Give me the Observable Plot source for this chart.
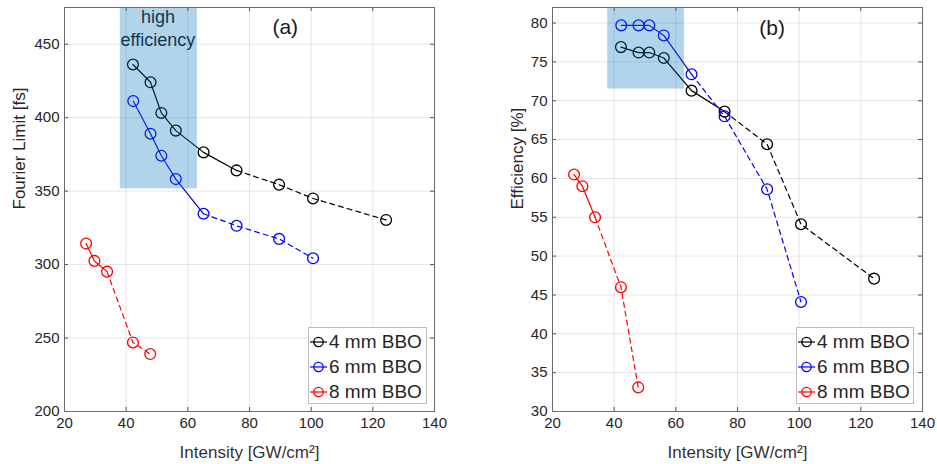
<!DOCTYPE html>
<html><head><meta charset="utf-8">
<script src="https://cdn.jsdelivr.net/npm/d3@7"></script>
<script src="https://cdn.jsdelivr.net/npm/@observablehq/plot@0.6"></script>
<style>
body{margin:0;background:#fff;}
#wrap{position:relative;width:937px;height:464px;overflow:hidden;background:#fff;font-family:"Liberation Sans",Arial,sans-serif;}
.panel{position:absolute;top:0;}
.panel svg{overflow:visible;}
.legend{position:absolute;background:#fff;border:1px solid #bdbdbd;box-sizing:border-box;font-size:19px;color:#262626;padding:2px 0 0 1px;}
.legend .row{display:flex;align-items:center;height:24.7px;white-space:nowrap;}
.legend svg{margin-right:1px;}
</style></head>
<body><div id="wrap"></div>
<script>
// ---- data ----
const seriesNames = ["4 mm BBO", "6 mm BBO", "8 mm BBO"];
const seriesColors = ["#000000", "#0000ff", "#ff0000"];
const solidCount = [6, 5, 3]; // points joined by solid line, rest dashed

const intensity4 = [42.2, 47.9, 51.4, 56.1, 65.1, 75.8, 89.6, 100.6, 124.3];
const intensity6 = [42.3, 47.9, 51.4, 56.1, 65.1, 75.8, 89.6, 100.6];
const intensity8 = [27.0, 29.7, 33.8, 42.2, 47.8];

const fourier4 = [436.2, 424.1, 403.2, 391.2, 376.4, 364.1, 354.4, 345.0, 330.4];
const fourier6 = [411.3, 389.1, 374.1, 358.2, 334.6, 326.4, 317.5, 304.3];
const fourier8 = [314.3, 302.5, 295.2, 247.0, 239.1];

const efficiency4 = [76.9, 76.2, 76.2, 75.5, 71.3, 68.6, 64.4, 54.1, 47.1];
const efficiency6 = [79.7, 79.7, 79.7, 78.4, 73.4, 68.0, 58.6, 44.1];
const efficiency8 = [60.5, 59.0, 55.0, 46.0, 33.1];

const xTicks = [20, 40, 60, 80, 100, 120, 140];
const yTicksA = [200, 250, 300, 350, 400, 450];
const yTicksB = [30, 35, 40, 45, 50, 55, 60, 65, 70, 75, 80];

const highEffA = [{x1: 38.1, x2: 63.1, y1: 351.6, y2: 475}];
const highEffB = [{x1: 37.9, x2: 62.8, y1: 71.5, y2: 82}];
const notesA = [{text: "(a)", x: 91.6, y: 462.5, size: 21}, {text: "high\nefficiency", x: 50.3, y: 461.5, size: 18}];
const notesB = [{text: "(b)", x: 91.2, y: 79.6, size: 21}];

const intensity = [intensity4, intensity6, intensity8];

function rows(values) {
  const solid = [], dashed = [], pts = [];
  seriesNames.forEach((name, i) => {
    intensity[i].forEach((x, j) => {
      const r = {series: name, x, y: values[i][j]};
      pts.push(r);
      if (j < solidCount[i]) solid.push(r);
      if (j >= solidCount[i] - 1) dashed.push(r);
    });
  });
  return {solid, dashed, pts};
}

const H = 464, MT = 7, MB = 53, PW = 370, PH = H - MT - MB;
const font = "'Liberation Sans', Arial, sans-serif";

function panel(o) {
  const d = rows(o.values);
  const plot = Plot.plot({
    width: o.width, height: H,
    marginLeft: o.ml, marginRight: o.width - o.ml - PW, marginTop: MT, marginBottom: MB,
    style: {fontFamily: font, fontSize: "15px", color: "#262626", background: "transparent"},
    x: {domain: [20, 140]},
    y: {domain: o.yDomain},
    color: {domain: seriesNames, range: seriesColors},
    marks: [
      Plot.gridX(xTicks, {stroke: "#000", strokeOpacity: 0.1}),
      Plot.gridY(o.yTicks, {stroke: "#000", strokeOpacity: 0.1}),
      Plot.ruleX(xTicks, {insetTop: PH - 4, stroke: "#555"}),
      Plot.ruleX(xTicks, {insetBottom: PH - 4, stroke: "#555"}),
      Plot.ruleY(o.yTicks, {insetLeft: PW - 4, stroke: "#555"}),
      Plot.ruleY(o.yTicks, {insetRight: PW - 4, stroke: "#555"}),
      Plot.axisX(xTicks, {tickSize: 0, tickPadding: 6, label: null}),
      Plot.axisY(o.yTicks, {tickSize: 0, tickPadding: 5, label: null}),
      Plot.line(d.solid, {x: "x", y: "y", z: "series", stroke: "series", strokeWidth: 1.2}),
      Plot.line(d.dashed, {x: "x", y: "y", z: "series", stroke: "series", strokeWidth: 1.2, strokeDasharray: "5,4"}),
      Plot.dot(d.pts, {x: "x", y: "y", stroke: "series", r: 5.4, strokeWidth: 1.3, fill: "none"}),
      Plot.text(o.notes, {x: "x", y: "y", text: "text", fontSize: d => d.size, fill: "#1a1a1a", lineHeight: 1.25}),
      Plot.rect(o.box, {x1: "x1", x2: "x2", y1: "y1", y2: "y2", fill: "#0072BD", fillOpacity: 0.3}),
      Plot.frame({stroke: "#6a6a6a"}),
      Plot.text(["Intensity [GW/cm²]"], {frameAnchor: "bottom", dy: 41, fontSize: 17, fill: "#333", lineAnchor: "middle"}),
      Plot.text([o.yLabel], {frameAnchor: "left", dx: o.labelDx, rotate: -90, fontSize: 17, fill: "#262626", lineAnchor: "middle"})
    ]
  });
  const div = document.createElement("div");
  div.className = "panel";
  div.style.left = o.left + "px";
  div.appendChild(plot);
  document.getElementById("wrap").appendChild(div);

  const lg = document.createElement("div");
  lg.className = "legend";
  Object.assign(lg.style, {left: o.legend[0] + "px", top: o.legend[1] + "px", width: o.legend[2] + "px", height: o.legend[3] + "px"});
  seriesNames.forEach((name, i) => {
    const row = document.createElement("div");
    row.className = "row";
    row.innerHTML = `<svg width="18" height="14"><line x1="0" x2="17" y1="7" y2="7" stroke="${seriesColors[i]}" stroke-width="1.2"/><circle cx="8.5" cy="7" r="4.7" fill="none" stroke="${seriesColors[i]}" stroke-width="1.3"/></svg><span>${name}</span>`;
    lg.appendChild(row);
  });
  document.getElementById("wrap").appendChild(lg);
}

panel({values: [fourier4, fourier6, fourier8], yDomain: [200, 475], yTicks: yTicksA, yLabel: "Fourier Limit [fs]",
  notes: notesA, box: highEffA, left: 0, width: 470, ml: 64, labelDx: -45, legend: [308, 327, 119, 77]});
panel({values: [efficiency4, efficiency6, efficiency8], yDomain: [30, 82], yTicks: yTicksB, yLabel: "Efficiency [%]",
  notes: notesB, box: highEffB, left: 470, width: 467, ml: 82, labelDx: -35, legend: [796, 327, 118, 77]});
</script></body></html>
